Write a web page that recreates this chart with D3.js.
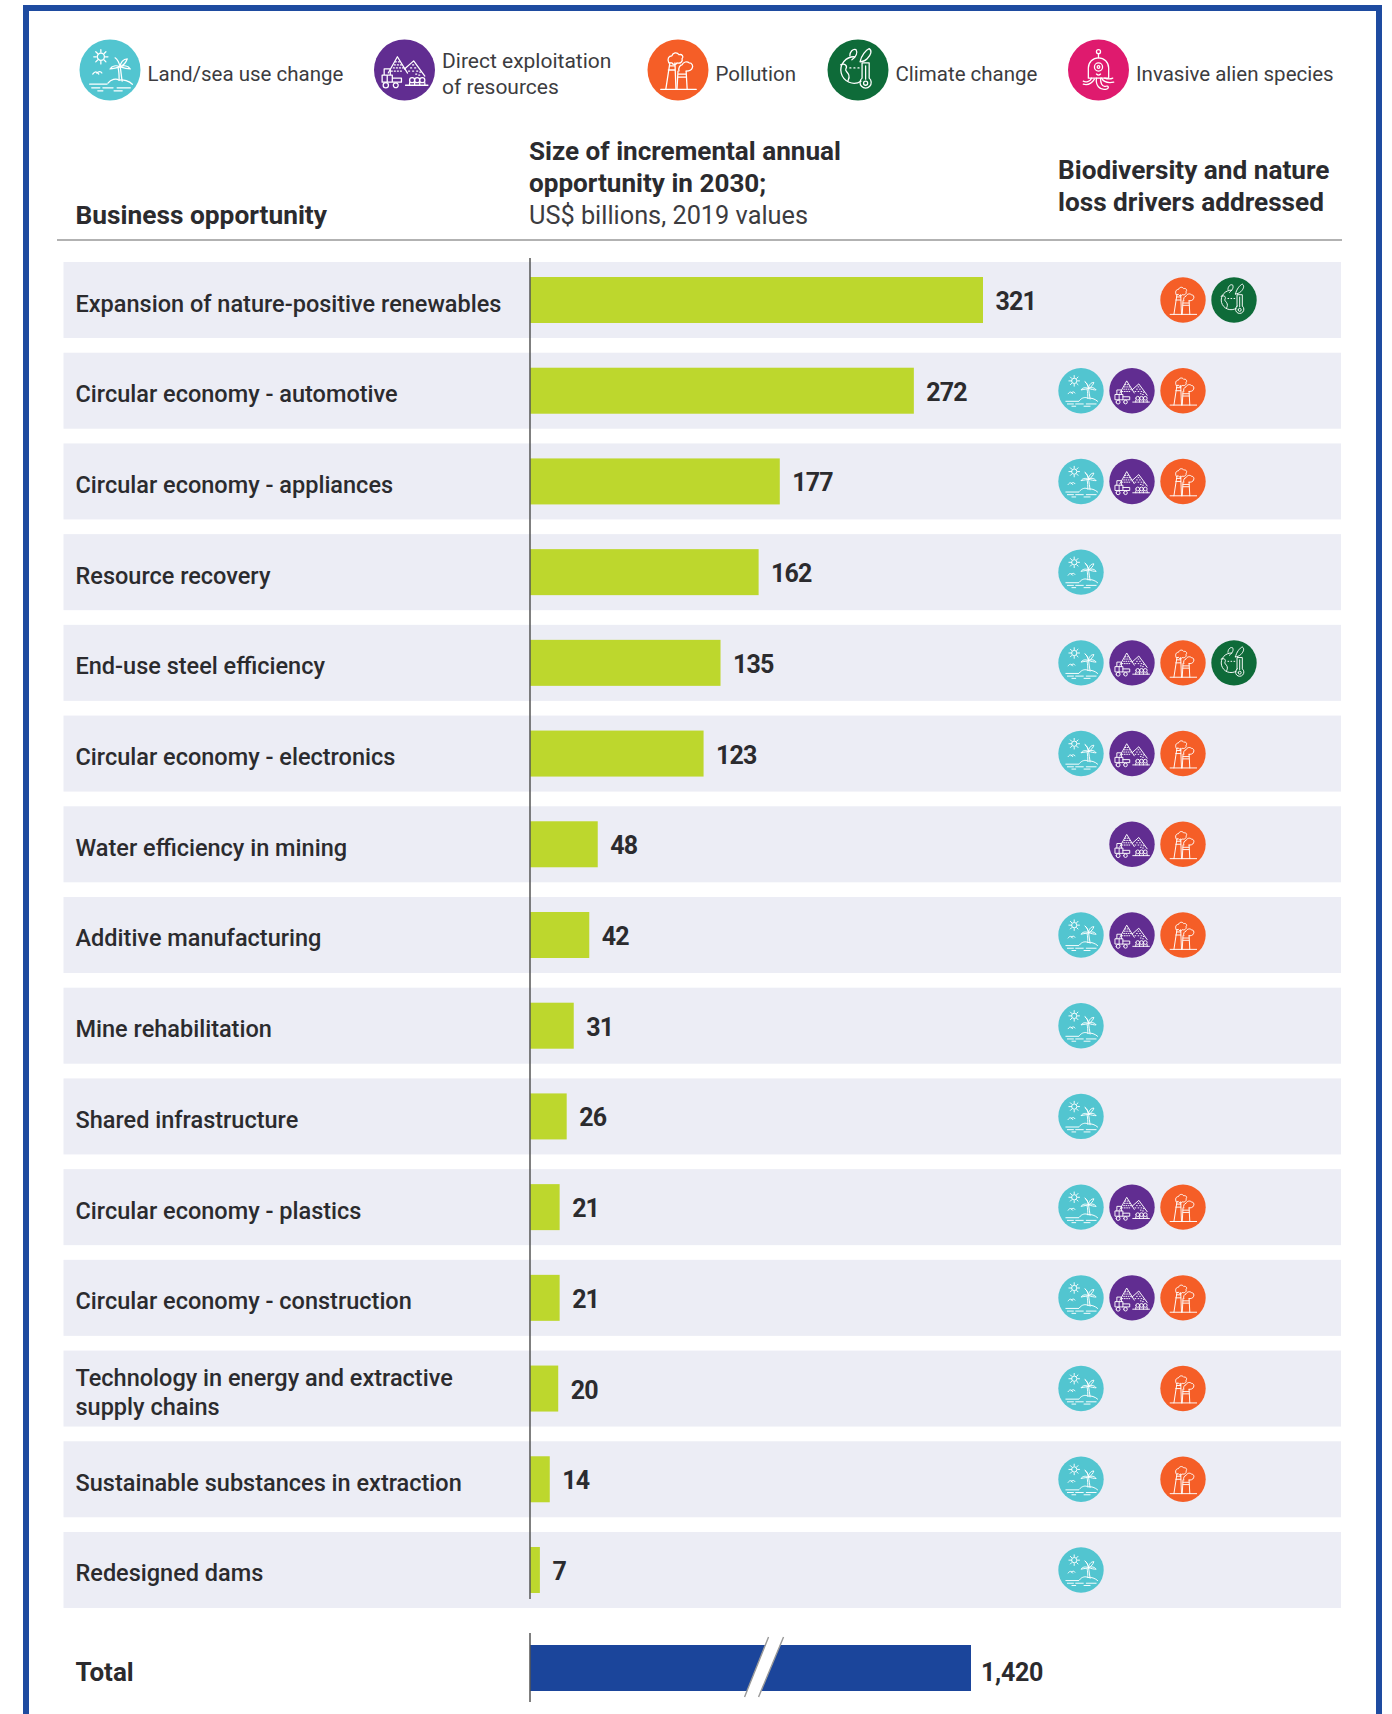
<!DOCTYPE html>
<html>
<head>
<meta charset="utf-8">
<script src="https://cdnjs.cloudflare.com/ajax/libs/d3/7.8.5/d3.min.js"></script>
<style>
  html, body { margin: 0; padding: 0; background: #fff; }
  svg { display: block; }
  text { font-family: Roboto, "Noto Sans", sans-serif; }
</style>
</head>
<body>
<svg id="viz"></svg>
<script>
// ----------------------------------------------------------------
// DATA

var categories = [
  "Expansion of nature-positive renewables",
  "Circular economy - automotive",
  "Circular economy - appliances",
  "Resource recovery",
  "End-use steel efficiency",
  "Circular economy - electronics",
  "Water efficiency in mining",
  "Additive manufacturing",
  "Mine rehabilitation",
  "Shared infrastructure",
  "Circular economy - plastics",
  "Circular economy - construction",
  "Technology in energy and extractive\nsupply chains",
  "Sustainable substances in extraction",
  "Redesigned dams"
];
var values = [321, 272, 177, 162, 135, 123, 48, 42, 31, 26, 21, 21, 20, 14, 7];
var driverKeys = ["land", "direct", "pollution", "climate", "invasive"];
var driverNames = ["Land/sea use change", "Direct exploitation\nof resources", "Pollution", "Climate change", "Invasive alien species"];
var driverColors = ["#52c5d0", "#612d91", "#f55e27", "#0e6b39", "#df1a6e"];
var rowDrivers = [
  ["pollution", "climate"],
  ["land", "direct", "pollution"],
  ["land", "direct", "pollution"],
  ["land"],
  ["land", "direct", "pollution", "climate"],
  ["land", "direct", "pollution"],
  ["direct", "pollution"],
  ["land", "direct", "pollution"],
  ["land"],
  ["land"],
  ["land", "direct", "pollution"],
  ["land", "direct", "pollution"],
  ["land", "pollution"],
  ["land", "pollution"],
  ["land"]
];
var totalLabel = "Total";
var totalValue = 1420;
var totalBreakAt = 752;

// ----------------------------------------------------------------
// SETUP

var w = 1392, h = 1714;
var viz = d3.select("#viz").attr("width", w).attr("height", h);
var axisX = 530;
var ink = "#2b2b2e";

var x = d3.scaleLinear().domain([0, 321]).range([axisX, 983]);
var xTotal = d3.scaleLinear().domain([0, totalValue]).range([axisX, 971]);
var y = d3.scaleBand().domain(categories).range([262, 1608]).paddingInner(0.162);
var iconX = d3.scalePoint().domain(driverKeys).range([1081, 1285]);
var legendX = d3.scaleOrdinal().domain(driverKeys).range([110, 404.5, 678, 858, 1098.5]);
var color = d3.scaleOrdinal().domain(driverKeys).range(driverColors);

// frame, open at the bottom
viz.append("path")
  .attr("d", "M26,1714V8H1379V1714")
  .attr("fill", "none")
  .attr("stroke", "#1e4ba0")
  .attr("stroke-width", 6);

// ----------------------------------------------------------------
// ICONS - white line art on a circle of radius 30

var defs = viz.append("defs");
function iconDef(key, pieces) {
  var g = defs.append("g").attr("id", "icon-" + key)
    .attr("fill", "none").attr("stroke", "#fff").attr("stroke-width", 1.25)
    .attr("stroke-linecap", "round").attr("stroke-linejoin", "round");
  g.append("circle").attr("r", 30).attr("fill", color(key)).attr("stroke", "none");
  pieces.forEach(function(d) { g.append("path").attr("d", d); });
}
iconDef("land", [
  "M-12.5,-13a3.5,3.5 0 1,0 7,0a3.5,3.5 0 1,0 -7,0",
  "M-9,-20v2.5M-9,-8.5v2.5M-16,-13h2.5M-4.5,-13h2.5M-14,-18l1.8,1.8M-5.8,-9.8l1.8,1.8M-14,-8l1.8,-1.8M-5.8,-16.2l1.8,-1.8",
  "M10,-3C6,-5 2,-4 0,-1C4,-2 7,-2 10,-3C10,-7 13,-11 17,-11C16,-8 14,-5 10,-3C14,-5 18,-4 20,-1C17,-1 13,-2 10,-3C9,-7 8,-10 5,-12C8,-10 9,-7 10,-3",
  "M10,-3C11,2 11,6 12,11M8,-2C9,2 9,6 9,10",
  "M-2,13C1,9 6,8 9,10C13,9 19,11 22,14",
  "M-20,14H-3M-18,17.5H-10M-7,17.5H3M7,17.5H20M-12,20.5H-7M4,20.5H12",
  "M-17,4C-15,1 -13,1 -11,4M-13,3C-11,1 -9,1 -8,3"
]);
iconDef("direct", [
  "M-16,3L-7,-13L3,3",
  "M0,-1L9,-9L20,6",
  "M-9,-8h1M-6,-8h1M-10,-5h1M-7,-5h1M-4,-5h1M-11,-2h1M-8,-2h1M-5,-2h1M-2,-2h1M-13,1h1M-10,1h1M-7,1h1M-4,1h1",
  "M8,-5h1M6,-2h1M10,-2h1M4,1h1M8,1h1M12,1h1M15,2h1M11,4h1M14,5h1",
  "M-22,5H-12V12H-22ZM-20,5V-1H-14V5M-12,8H-3V12H-12M-17,5V12",
  "M-21,15a2.6,2.6 0 1,0 5.2,0a2.6,2.6 0 1,0 -5.2,0M-11,15a2.4,2.4 0 1,0 4.8,0a2.4,2.4 0 1,0 -4.8,0",
  "M5,10a2.5,2.5 0 1,0 5,0a2.5,2.5 0 1,0 -5,0M10,10a2.5,2.5 0 1,0 5,0a2.5,2.5 0 1,0 -5,0M15,10a2.5,2.5 0 1,0 5,0a2.5,2.5 0 1,0 -5,0",
  "M1,15H23M5,12.5V15M10,12.5V15M15,12.5V15M20,12.5V15"
]);
iconDef("pollution", [
  "M-17,19H18",
  "M-8,-7L-12,19M-3,-7L-2,19M-8.5,-4H-3M-9.5,0H-3",
  "M0,1L-1,19M8,1L9,19M0,4H8M0,7H8",
  "M-9,-7C-11,-11 -9,-14 -6,-14C-5,-17 -1,-18 1,-15C4,-16 6,-13 4,-11C5,-8 2,-6 -1,-7C-2,-5 -5,-5 -6,-7Z",
  "M1,1C0,-2 2,-5 4,-5C5,-8 9,-9 11,-7C14,-7 15,-4 14,-2C13,1 10,1 8,1"
]);
iconDef("climate", [
  "M-3,-13A13,13 0 1,0 3,11",
  "M-17,-5C-13,-7 -10,-4 -12,-1C-13,1 -10,2 -9,5C-8,8 -10,10 -10,11",
  "M-8,-14C-8,-18 -5,-21 -2,-20C0,-17 -2,-13 -6,-10",
  "M2,-8C3,-14 8,-20 11,-21C14,-19 13,-15 9,-11C7,-9 4,-8 2,-8Z",
  "M4,8V-7H11V8A5.5,5.5 0 1,1 4,8Z",
  "M5.5,13a2,2 0 1,0 4,0a2,2 0 1,0 -4,0",
  "M7.5,-4V9",
  "M-8,-2h1M-4,-2h1M0,-2h1"
]);
iconDef("invasive", [
  "M-2,-18a2,2 0 1,0 4,0a2,2 0 1,0 -4,0M0,-16V-12",
  "M-10,8V-2A10,10 0 0,1 10,-2V8Z",
  "M-4,-3a4,4 0 1,0 8,0a4,4 0 1,0 -8,0M-1.3,-3a1.3,1.3 0 1,0 2.6,0a1.3,1.3 0 1,0 -2.6,0",
  "M-2,4Q0,6 2,4",
  "M-7,8C-8,12 -13,12 -15,11M-15,14C-11,15 -7,14 -4,9",
  "M-2,8C-3,15 1,20 7,19C11,18 10,15 7,16C3,17 2,12 2,8",
  "M3,8C5,12 9,13 15,12M6,8C9,9 12,9 14,8"
]);

function drawIcon(sel, cx, cy, key, r) {
  sel.append("use")
    .attr("href", "#icon-" + key)
    .attr("transform", "translate(" + cx + "," + cy + ") scale(" + (r / 30) + ")");
}

// ----------------------------------------------------------------
// LEGEND

var legend = viz.append("g").attr("class", "legend");
driverKeys.forEach(function(key, i) {
  drawIcon(legend, legendX(key), 70, key, 30.5);
  var lines = driverNames[i].split("\n");
  var tx = legendX(key) + 37.5;
  lines.forEach(function(line, j) {
    legend.append("text")
      .attr("x", tx)
      .attr("y", lines.length > 1 ? 68 + j * 26 : 81)
      .attr("font-size", lines.length > 1 ? 21 : 20.5)
      .attr("fill", "#3c3c40")
      .text(line);
  });
});

// ----------------------------------------------------------------
// HEADER

function headText(tx, ty, str, weight, size) {
  viz.append("text").attr("x", tx).attr("y", ty)
    .attr("font-size", size)
    .attr("font-weight", weight)
    .attr("fill", weight === 700 ? ink : "#3c3c40")
    .text(str);
}
headText(75.5, 224, "Business opportunity", 700, 26.3);
headText(529, 160, "Size of incremental annual", 700, 26.1);
headText(529, 192, "opportunity in 2030;", 700, 26.1);
headText(529, 224, "US$ billions, 2019 values", 400, 25.3);
headText(1058, 179, "Biodiversity and nature", 700, 26.2);
headText(1058, 211, "loss drivers addressed", 700, 26.2);

viz.append("line")
  .attr("x1", 57).attr("x2", 1342).attr("y1", 240).attr("y2", 240)
  .attr("stroke", "#999").attr("stroke-width", 1.5);

// ----------------------------------------------------------------
// ROWS

var rows = viz.selectAll("g.row")
  .data(categories)
  .enter()
  .append("g")
  .attr("class", "row")
  .attr("transform", function(d) { return "translate(0," + y(d) + ")"; });

rows.append("rect")
  .attr("x", 63.5).attr("width", 1277.5)
  .attr("height", y.bandwidth())
  .attr("fill", "#ecedf5");

// bars
rows.append("rect")
  .attr("x", axisX)
  .attr("y", 15)
  .attr("height", 46)
  .attr("width", function(d, i) { return x(values[i]) - axisX; })
  .attr("fill", "#bdd72d");

// value labels
rows.append("text")
  .attr("x", function(d, i) { return x(values[i]) + 12.5; })
  .attr("y", 48)
  .attr("font-size", 25)
  .attr("font-weight", 700)
  .attr("letter-spacing", -0.9)
  .attr("fill", ink)
  .text(function(d, i) { return d3.format(",")(values[i]); });

// category labels
rows.each(function(d) {
  var lines = d.split("\n");
  var row = d3.select(this);
  lines.forEach(function(line, j) {
    row.append("text")
      .attr("x", 75.5)
      .attr("y", lines.length > 1 ? 35 + j * 29 : 49.5)
      .attr("font-size", 23.5)
      .attr("font-weight", 500)
      .attr("fill", ink)
      .text(line);
  });
});

// driver icons
rows.each(function(d, i) {
  var row = d3.select(this);
  rowDrivers[i].forEach(function(key) {
    drawIcon(row, iconX(key), 38, key, 22.7);
  });
});

// axis line
viz.append("line")
  .attr("x1", axisX).attr("x2", axisX).attr("y1", 258).attr("y2", 1599)
  .attr("stroke", "#555").attr("stroke-width", 1.5);

// ----------------------------------------------------------------
// TOTAL

viz.append("rect")
  .attr("x", xTotal(0)).attr("y", 1645)
  .attr("width", xTotal(totalValue) - xTotal(0)).attr("height", 46)
  .attr("fill", "#1b459b");

// axis break
var bx = xTotal(totalBreakAt);
viz.append("path")
  .attr("d", "M" + (bx + 5) + ",1637L" + (bx - 19) + ",1697H" + (bx - 5) + "L" + (bx + 20) + ",1637Z")
  .attr("fill", "#fff");
viz.append("path")
  .attr("d", "M" + (bx + 5) + ",1637L" + (bx - 19) + ",1697M" + (bx - 5) + ",1697L" + (bx + 20) + ",1637")
  .attr("fill", "none").attr("stroke", "#999").attr("stroke-width", 1.4);

viz.append("line")
  .attr("x1", axisX).attr("x2", axisX).attr("y1", 1633).attr("y2", 1702)
  .attr("stroke", "#555").attr("stroke-width", 1.5);

viz.append("text").attr("x", 75.5).attr("y", 1681)
  .attr("font-size", 26).attr("font-weight", 700).attr("fill", ink)
  .text(totalLabel);
viz.append("text").attr("x", xTotal(totalValue) + 10).attr("y", 1681)
  .attr("font-size", 25).attr("font-weight", 700).attr("letter-spacing", -0.3).attr("fill", ink)
  .text(d3.format(",")(totalValue));
</script>
</body>
</html>
